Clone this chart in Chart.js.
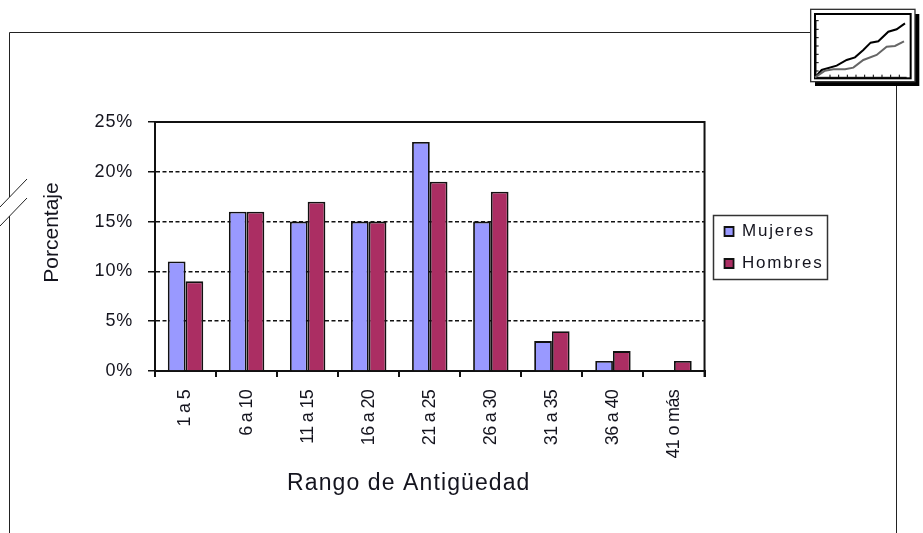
<!DOCTYPE html>
<html>
<head>
<meta charset="utf-8">
<script src="https://cdn.jsdelivr.net/npm/chart.js@4"></script>
<style>
html, body { margin: 0; padding: 0; background: #fff; }
#wrap { position: relative; width: 923px; height: 533px; overflow: hidden; }
#chart { position: absolute; left: 0; top: 0; }
#frame { position: absolute; left: 0; top: 0; }
</style>
</head>
<body>
<div id="wrap">
<canvas id="chart" width="923" height="533"></canvas>
<svg id="frame" width="923" height="533" fill="none" stroke="#222" stroke-width="1">
    <!-- frame with the break on the left side -->
    <path d="M9.5 197V32.5H811M9.5 216V533M896.5 85V533" />
    <path d="M0 207L27 179M0 226L27 198" />
    <!-- corner icon -->
    <g transform="translate(800 0) scale(0.3333)">
        <rect x="45" y="42" width="313" height="216" fill="#000" stroke="none" />
        <rect x="32" y="28" width="313" height="217" fill="#fff" stroke="#333" stroke-width="4" />
        <rect x="45" y="42" width="287" height="193" fill="#fff" stroke="#000" stroke-width="6" />
        <path d="M48 62v170M48 62h8M48 88h8M48 113h8M48 138h8M48 163h8M48 188h8M48 213h8M48 232H320M90 232v-8M116 232v-8M142 232v-8M168 232v-8M194 232v-8M220 232v-8M246 232v-8M272 232v-8M298 232v-8" stroke="#000" stroke-width="3" />
        <polyline points="45,232 65,210 110,197 140,180 165,172 190,150 212,128 235,124 265,95 290,88 315,70" stroke="#000" stroke-width="6" />
        <polyline points="45,232 75,212 100,208 135,208 160,203 190,180 230,165 260,140 285,138 312,124" stroke="#666" stroke-width="6" />
    </g>
</svg>
</div>
<script>
const categories = ['1 a 5', '6 a 10', '11 a 15', '16 a 20', '21 a 25', '26 a 30', '31 a 35', '36 a 40', '41 o más']
const mujeres = [11, 16, 15, 15, 23, 15, 3, 1, 0]
const hombres = [9, 16, 17, 15, 19, 18, 4, 2, 1]
const yTicks = [0, 5, 10, 15, 20, 25]

const textColor = '#14141e'
const fontFamily = "'Liberation Sans', Arial, sans-serif"

// the reference text is wider than the font, and its axis titles sit off centre
function tweakDraw(obj, method, spacing, dx, dy) {
    const original = obj[method]
    obj[method] = function (...args) {
        const c = this.ctx
        c.save()
        c.letterSpacing = spacing + 'px'
        c.translate(dx, dy)
        original.apply(this, args)
        c.restore()
    }
}

// solid top and right edge of the plot, box round the legend
const framePlugin = {
    id: 'framePlugin',
    afterLayout(chart) {
        chart.legend.left += 5
        chart.legend.right += 20 // legend clips to this, spaced text runs wider
        chart.legend.top -= 80
        chart.legend.bottom -= 80
    },
    afterDatasetsDraw(chart) {
        const { ctx, chartArea: a } = chart
        ctx.save()
        ctx.strokeStyle = '#111'
        ctx.lineWidth = 2
        ctx.beginPath()
        ctx.moveTo(a.left, a.top)
        ctx.lineTo(a.right, a.top)
        ctx.lineTo(a.right, a.bottom + 6)
        ctx.stroke()
        ctx.strokeStyle = '#333'
        ctx.lineWidth = 1.5
        ctx.strokeRect(713.5, 215.5, 114, 64)
        ctx.restore()
    }
}

const ctx = document.getElementById('chart').getContext('2d')
const chart = new Chart(ctx, {
    type: 'bar',
    data: {
        labels: categories,
        datasets: [{
            label: 'Mujeres',
            data: mujeres,
            backgroundColor: '#9999ff',
            borderColor: '#111',
            borderWidth: 1.8,
            borderSkipped: 'bottom',
            categoryPercentage: 0.58,
            barPercentage: 1,
        }, {
            label: 'Hombres',
            data: hombres,
            backgroundColor: '#ab2e63',
            borderColor: '#111',
            borderWidth: 1.8,
            borderSkipped: 'bottom',
            categoryPercentage: 0.58,
            barPercentage: 1,
        }]
    },
    options: {
        responsive: false,
        animation: false,
        layout: {
            padding: { left: 40, right: 107, top: 122, bottom: 0 },
        },
        scales: {
            x: {
                afterFit(scale) { scale.height = 162 },
                title: {
                    display: true,
                    text: 'Rango de Antigüedad',
                    color: textColor,
                    font: { family: fontFamily, size: 23 },
                    padding: { top: 0, bottom: 36 },
                },
                ticks: {
                    color: textColor,
                    font: { family: fontFamily, size: 18 },
                    minRotation: 90,
                    maxRotation: 90,
                    padding: 13,
                    autoSkip: false,
                },
                grid: {
                    drawOnChartArea: false,
                    color: '#111',
                    lineWidth: 2,
                    tickLength: 6,
                },
                border: { color: '#111', width: 2 },
            },
            y: {
                min: 0,
                max: 25,
                afterFit(scale) { scale.width = 115 },
                afterBuildTicks(scale) { scale.ticks = yTicks.map(v => ({ value: v })) },
                title: {
                    display: true,
                    text: 'Porcentaje',
                    color: textColor,
                    font: { family: fontFamily, size: 21 },
                    padding: 0,
                },
                ticks: {
                    color: textColor,
                    font: { family: fontFamily, size: 18 },
                    padding: 15,
                    callback: v => v + '%',
                },
                grid: {
                    color: '#111',
                    lineWidth: 1.5,
                    tickLength: 7,
                    tickBorderDash: [],
                },
                border: { color: '#111', width: 2, dash: [4, 2.5] },
            },
        },
        plugins: {
            legend: {
                position: 'right',
                labels: {
                    color: textColor,
                    font: { family: fontFamily, size: 17 },
                    boxWidth: 9,
                    boxHeight: 9,
                    padding: 15,
                },
            },
            tooltip: { enabled: false },
        },
    },
    plugins: [framePlugin],
})

tweakDraw(chart.scales.x, 'drawTitle', 1.1, -21, 0)
tweakDraw(chart.scales.x, 'drawLabels', -0.7, 0, 0)
tweakDraw(chart.scales.y, 'drawTitle', 0, 0, -14)
tweakDraw(chart.scales.y, 'drawLabels', 0.8, 0, 0)
tweakDraw(chart.legend, 'draw', 1.8, 0, 0)
chart.draw()
</script>
</body>
</html>
